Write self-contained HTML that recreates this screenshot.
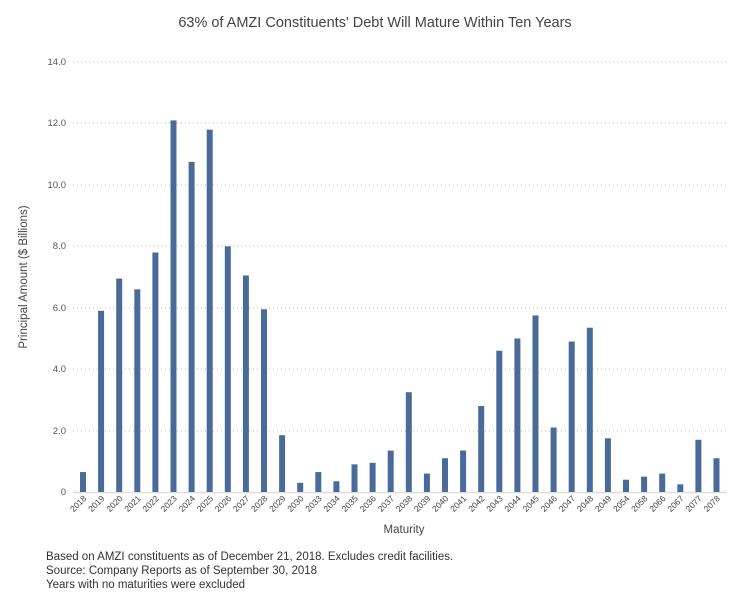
<!DOCTYPE html>
<html><head><meta charset="utf-8"><style>
body{margin:0;background:#fff;}
svg{display:block;font-family:"Liberation Sans",sans-serif;}
</style></head><body>
<svg width="750" height="605" viewBox="0 0 750 605" xmlns="http://www.w3.org/2000/svg">
<text x="375" y="27" text-anchor="middle" font-size="14.5" fill="#444">63% of AMZI Constituents' Debt Will Mature Within Ten Years</text>
<g stroke="#bbb" stroke-width="1" stroke-dasharray="1,3">
<line x1="73" x2="727" y1="62" y2="62"/><line x1="73" x2="727" y1="123" y2="123"/><line x1="73" x2="727" y1="185" y2="185"/><line x1="73" x2="727" y1="246" y2="246"/><line x1="73" x2="727" y1="308" y2="308"/><line x1="73" x2="727" y1="369" y2="369"/><line x1="73" x2="727" y1="431" y2="431"/>
</g>
<line x1="73" x2="727" y1="492.5" y2="492.5" stroke="#ddd" stroke-width="1.5"/>
<g font-size="9.5" fill="#555" text-anchor="end">
<text x="66" y="65">14.0</text><text x="66" y="126">12.0</text><text x="66" y="188">10.0</text><text x="66" y="249">8.0</text><text x="66" y="311">6.0</text><text x="66" y="372">4.0</text><text x="66" y="434">2.0</text><text x="66" y="495">0</text>
</g>
<text transform="translate(27,277) rotate(-90)" text-anchor="middle" font-size="11.5" fill="#444">Principal Amount ($ Billions)</text>
<text x="404" y="533" text-anchor="middle" font-size="11.5" fill="#444">Maturity</text>
<g id="bars" fill="#4a6b9a"></g>
<g id="labels" font-size="8.5" fill="#444"></g>
<g font-size="11.5" fill="#333">
<text x="46" y="560">Based on AMZI constituents as of December 21, 2018. Excludes credit facilities.</text>
<text x="46" y="574">Source: Company Reports as of September 30, 2018</text>
<text x="46" y="588">Years with no maturities were excluded</text>
</g>
<script>
var d=[["2018",0.65],["2019",5.9],["2020",6.95],["2021",6.6],["2022",7.8],["2023",12.1],["2024",10.75],["2025",11.8],["2026",8.0],["2027",7.05],["2028",5.95],["2029",1.85],["2030",0.3],["2033",0.65],["2034",0.35],["2035",0.9],["2036",0.95],["2037",1.35],["2038",3.25],["2039",0.6],["2040",1.1],["2041",1.35],["2042",2.8],["2043",4.6],["2044",5.0],["2045",5.75],["2046",2.1],["2047",4.9],["2048",5.35],["2049",1.75],["2054",0.4],["2058",0.5],["2066",0.6],["2067",0.25],["2077",1.7],["2078",1.1]];
var ns="http://www.w3.org/2000/svg",b=document.getElementById("bars"),l=document.getElementById("labels");
d.forEach(function(e,i){var cx=83+i*18.1,h=e[1]*30.71;
var r=document.createElementNS(ns,"rect");r.setAttribute("x",cx-3);r.setAttribute("y",492-h);r.setAttribute("width",6);r.setAttribute("height",h);b.appendChild(r);
var t=document.createElementNS(ns,"text");t.setAttribute("text-anchor","end");t.setAttribute("transform","translate("+(cx+4)+",499) rotate(-45)");t.textContent=e[0];l.appendChild(t);});
</script>
</svg>
</body></html>
